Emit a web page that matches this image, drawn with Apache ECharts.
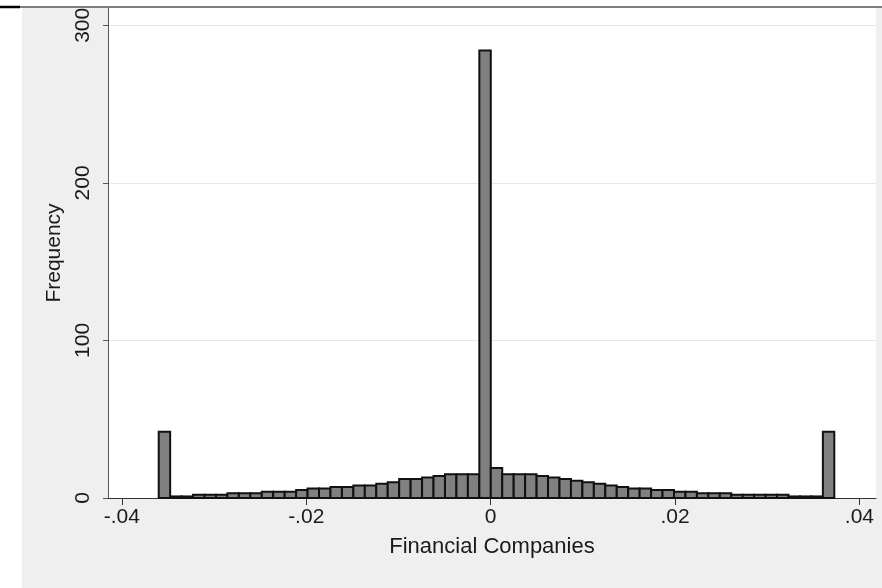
<!DOCTYPE html>
<html>
<head>
<meta charset="utf-8">
<title>Financial Companies histogram</title>
<script src="https://cdn.jsdelivr.net/npm/echarts@6/dist/echarts.min.js"></script>
<style>
  html, body { margin: 0; padding: 0; background: #fff; }
  #main { width: 882px; height: 588px; }
</style>
</head>
<body>
<div id="main"></div>
<script>
// histogram bins (lower edge of first bin and bin width)
const binStart = -0.0360
const binWidth = 0.001242
// frequency of each bin, left to right
const freqs = [
  42, 1, 1, 2, 2, 2, 3, 3, 3, 4, 4, 4, 5, 6, 6, 7, 7, 8, 8, 9, 10, 12, 12, 13, 14, 15, 15, 15, 284,
  19, 15, 15, 15, 14, 13, 12, 11, 10, 9, 8, 7, 6, 6, 5, 5, 4, 4, 3, 3, 3, 2, 2, 2, 2, 2, 1, 1, 1, 42
]
const xTicks = [-0.04, -0.02, 0, 0.02, 0.04]
const yTicks = [0, 100, 200, 300]

const font = 'Liberation Sans, Arial, sans-serif'

const bins = freqs.map((f, i) => [binStart + i * binWidth, binStart + (i + 1) * binWidth, f])

// stata style: -.04, .02
function fmtX (v) {
  if (Math.abs(v) < 1e-9) return '0'
  return v.toFixed(2).replace('0.', '.')
}

const chart = echarts.init(document.getElementById('main'))
chart.setOption({
  backgroundColor: '#efefef',
  animation: false,
  graphic: [
    { type: 'rect', shape: { x: 0, y: 0, width: 882, height: 8 }, style: { fill: '#fff' } },
    { type: 'rect', shape: { x: 0, y: 0, width: 22, height: 588 }, style: { fill: '#fff' } },
    { type: 'line', shape: { x1: 0, y1: 7, x2: 882, y2: 7 }, style: { stroke: '#000', lineWidth: 1 } },
    { type: 'line', shape: { x1: 0, y1: 7, x2: 20, y2: 7 }, style: { stroke: '#000', lineWidth: 2.5 } }
  ],
  grid: {
    left: 108,
    right: 6,
    top: 8,
    bottom: 90,
    show: true,
    backgroundColor: '#fff',
    borderWidth: 0
  },
  xAxis: {
    type: 'value',
    min: -0.0415,
    max: 0.0418,
    name: 'Financial Companies',
    nameLocation: 'middle',
    nameGap: 38,
    nameTextStyle: { fontFamily: font, fontSize: 22, color: '#1a1a1a' },
    axisLine: { show: true, onZero: false, lineStyle: { color: '#333', width: 1 } },
    axisTick: { show: true, length: 7, customValues: xTicks, lineStyle: { color: '#333' } },
    axisLabel: {
      customValues: xTicks,
      formatter: fmtX,
      margin: 9,
      fontFamily: font,
      fontSize: 21,
      color: '#1a1a1a'
    },
    splitLine: { show: false }
  },
  yAxis: {
    type: 'value',
    min: 0,
    max: 311,
    name: 'Frequency',
    nameLocation: 'middle',
    nameGap: 42,
    nameTextStyle: { fontFamily: font, fontSize: 21, color: '#1a1a1a' },
    axisLine: { show: true, onZero: false, lineStyle: { color: '#555', width: 1 } },
    axisTick: { show: true, length: 5, customValues: yTicks, lineStyle: { color: '#555' } },
    axisLabel: {
      customValues: yTicks,
      rotate: 90,
      margin: 14,
      fontFamily: font,
      fontSize: 21,
      color: '#1a1a1a'
    },
    splitLine: { show: true, lineStyle: { color: '#e6e6e6', width: 1 } }
  },
  series: [
    {
      type: 'custom',
      data: bins,
      encode: { x: [0, 1], y: 2 },
      renderItem (params, api) {
        const p0 = api.coord([api.value(0), api.value(2)])
        const p1 = api.coord([api.value(1), 0])
        return {
          type: 'rect',
          shape: { x: p0[0], y: p0[1], width: p1[0] - p0[0], height: p1[1] - p0[1] },
          style: { fill: '#808080', stroke: '#111', lineWidth: 2 }
        }
      }
    }
  ]
})
</script>
</body>
</html>
